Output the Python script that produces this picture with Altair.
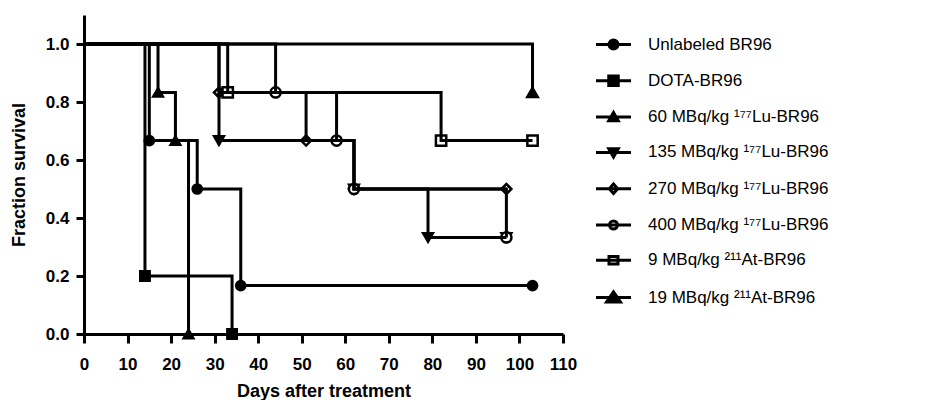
import altair as alt
import pandas as pd

# ---- data ----
series = [
    "Unlabeled BR96",
    "DOTA-BR96",
    "60 MBq/kg ¹⁷⁷Lu-BR96",
    "135 MBq/kg ¹⁷⁷Lu-BR96",
    "270 MBq/kg ¹⁷⁷Lu-BR96",
    "400 MBq/kg ¹⁷⁷Lu-BR96",
    "9 MBq/kg ²¹¹At-BR96",
    "19 MBq/kg ²¹¹At-BR96",
]

unl_days = [0, 15, 26, 36, 103]
unl_surv = [1.0, 0.667, 0.5, 0.167, 0.167]
dota_days = [0, 14, 34]
dota_surv = [1.0, 0.2, 0.0]
lu60_days = [0, 17, 21, 24]
lu60_surv = [1.0, 0.833, 0.667, 0.0]
lu135_days = [0, 31, 62, 79, 97]
lu135_surv = [1.0, 0.667, 0.5, 0.333, 0.333]
lu270_days = [0, 31, 51, 62, 97]
lu270_surv = [1.0, 0.833, 0.667, 0.5, 0.5]
lu400_days = [0, 44, 58, 62, 97]
lu400_surv = [1.0, 0.833, 0.667, 0.5, 0.333]
at9_days = [0, 33, 82, 103]
at9_surv = [1.0, 0.833, 0.667, 0.667]
at19_days = [0, 103]
at19_surv = [1.0, 0.833]

x_ticks = [0, 10, 20, 30, 40, 50, 60, 70, 80, 90, 100, 110]
y_ticks = [0.0, 0.2, 0.4, 0.6, 0.8, 1.0]

# ---- styles ----
plot_shapes = ["circle", "square", "triangle-up", "triangle-down",
               "diamond", "circle", "square", "triangle-up"]
fills = ["black", "black", "black", "black", "white", "white", "white", "black"]
strokes = ["black"] * 8
sizes = [85, 110, 100, 100, 60, 95, 110, 210]

LINE = "M-3.5,0H3.5"
legend_paths = [
    LINE + "M-0.9,0A0.9,0.9 0 1,0 0.9,0A0.9,0.9 0 1,0 -0.9,0Z",
    LINE + "M-0.95,-0.95H0.95V0.95H-0.95Z",
    LINE + "M0,-0.9L0.95,0.75H-0.95Z",
    LINE + "M0,0.9L0.95,-0.75H-0.95Z",
    LINE + "M0,-0.95L0.85,0L0,0.95L-0.85,0Z",
    LINE + "M-0.8,0A0.8,0.8 0 1,0 0.8,0A0.8,0.8 0 1,0 -0.8,0Z",
    LINE + "M-0.9,-0.75H0.9V0.75H-0.9Z",
    LINE + "M0,-1.15L1.4,0.9H-1.4Z",
]

all_days = [unl_days, dota_days, lu60_days, lu135_days,
            lu270_days, lu400_days, at9_days, at19_days]
all_surv = [unl_surv, dota_surv, lu60_surv, lu135_surv,
            lu270_surv, lu400_surv, at9_surv, at19_surv]

rows = []
for i, (name, d, s) in enumerate(zip(series, all_days, all_surv)):
    for t, v in zip(d, s):
        rows.append({"series": name, "entry": name, "t": t, "s": v})
df = pd.DataFrame(rows)

FONT = "Liberation Sans"

x_enc = alt.X("t:Q", scale=alt.Scale(domain=[0, 110], nice=False),
              axis=alt.Axis(values=x_ticks, title="Days after treatment",
                            grid=False, tickSize=9, tickWidth=3, domainWidth=3,
                            domainColor="black", tickColor="black",
                            labelFont=FONT, labelFontSize=17, labelFontWeight="bold",
                            labelColor="black", labelPadding=13, labelFlush=False,
                            titleFont=FONT, titleFontSize=18, titleFontWeight="bold",
                            titleColor="black", titlePadding=10))
y_enc = alt.Y("s:Q", scale=alt.Scale(domain=[0, 1.1], nice=False),
              axis=alt.Axis(values=y_ticks, format=".1f", title="Fraction survival",
                            grid=False, tickSize=8, tickWidth=3, domainWidth=3,
                            domainColor="black", tickColor="black",
                            labelFont=FONT, labelFontSize=17, labelFontWeight="bold",
                            labelColor="black", labelPadding=7,
                            titleFont=FONT, titleFontSize=18, titleFontWeight="bold",
                            titleColor="black", titlePadding=17))

base = alt.Chart(df)

points = base.transform_filter("datum.t > 0").mark_point(
    filled=True, stroke="black", strokeWidth=2.5, opacity=1
).encode(
    x=x_enc, y=y_enc,
    shape=alt.Shape("series:N", scale=alt.Scale(domain=series, range=plot_shapes), legend=None),
    fill=alt.Fill("series:N", scale=alt.Scale(domain=series, range=fills), legend=None),
    size=alt.Size("series:N", scale=alt.Scale(domain=series, range=sizes), legend=None),
)

lines = base.mark_line(interpolate="step-after", color="black", strokeWidth=3).encode(
    x="t:Q", y="s:Q", detail="series:N", order="t:Q"
)

leg = alt.Legend(title=None, orient="none", legendX=521, legendY=21,
                 labelFont=FONT, labelFontSize=17, labelColor="black",
                 labelOffset=26, rowPadding=14.3, symbolSize=100,
                 symbolStrokeWidth=3,
                 labelLimit=400, padding=0)

legend_layer = base.transform_filter("datum.t < 0").mark_point(
    filled=True, strokeWidth=3, size=100, opacity=1
).encode(
    x="t:Q", y="s:Q",
    shape=alt.Shape("entry:N", scale=alt.Scale(domain=series, range=legend_paths), legend=leg),
    fill=alt.Fill("entry:N", scale=alt.Scale(domain=series, range=fills), legend=leg),
    stroke=alt.Stroke("entry:N", scale=alt.Scale(domain=series, range=strokes), legend=leg),
)

chart = alt.layer(points, lines, legend_layer).resolve_scale(
    shape="independent", fill="independent", size="independent", stroke="independent"
).properties(
    width=479, height=319,
    padding={"left": 76, "top": 7, "right": 345, "bottom": 66},
    autosize=alt.AutoSizeParams(type="none"),
    background="white",
).configure_view(stroke=None)

chart.save("out.html", embed_options={"renderer": "svg", "actions": False})
